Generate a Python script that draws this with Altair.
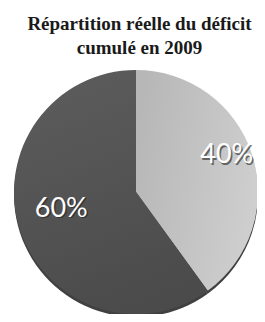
import altair as alt
import pandas as pd

categories = ["Part A", "Part B"]
values = [40, 60]
labels = ["40%", "60%"]
light_stops = ["#b7b7b7", "#cfcfcf"]
dark_stops = ["#5c5c5c", "#4b4b4b"]
title_lines = ["Répartition réelle du déficit", "cumulé en 2009"]

df = pd.DataFrame({"cat": categories, "value": values, "label": labels, "order": [0, 1]})
total = sum(values)

# plot-area pixel positions of the pie centre and of the label ring centre
cx, cy, R = 128, 124, 122
tx, ty, TR = 136, 114, 87

base = alt.Chart(df).transform_stack(
    stack="value", groupby=[], as_=["t0", "t1"], sort=[alt.SortField("order")]
).transform_calculate(mid="(datum.t0 + datum.t1) / 2")

theta = alt.Theta("t0:Q", scale=alt.Scale(domain=[0, total]))

shadow = base.mark_arc(outerRadius=R, color="#000000", opacity=0.75).encode(
    theta=theta, theta2="t1:Q", x=alt.value(cx), y=alt.value(cy + 3)
)

light = base.transform_filter(alt.datum.cat == categories[0]).mark_arc(
    outerRadius=R,
    color=alt.Gradient(
        gradient="linear", x1=0, y1=0.3, x2=1, y2=0.6,
        stops=[alt.GradientStop(offset=0, color=light_stops[0]),
               alt.GradientStop(offset=1, color=light_stops[1])],
    ),
).encode(theta=theta, theta2="t1:Q", x=alt.value(cx), y=alt.value(cy))

dark = base.transform_filter(alt.datum.cat == categories[1]).mark_arc(
    outerRadius=R,
    color=alt.Gradient(
        gradient="linear", x1=0.2, y1=0, x2=0.5, y2=1,
        stops=[alt.GradientStop(offset=0, color=dark_stops[0]),
               alt.GradientStop(offset=1, color=dark_stops[1])],
    ),
).encode(theta=theta, theta2="t1:Q", x=alt.value(cx), y=alt.value(cy))

txt_shadow = base.mark_text(radius=TR, font="Lato", fontSize=27, color="#222222",
                            opacity=0.6, dx=1.5, dy=1.5).encode(
    theta=alt.Theta("mid:Q", scale=alt.Scale(domain=[0, total])),
    text="label:N", x=alt.value(tx), y=alt.value(ty)
)
txt = base.mark_text(radius=TR, font="Lato", fontSize=27, color="#ffffff").encode(
    theta=alt.Theta("mid:Q", scale=alt.Scale(domain=[0, total])),
    text="label:N", x=alt.value(tx), y=alt.value(ty)
)

chart = alt.layer(shadow, light, dark, txt_shadow, txt).properties(
    width=249,
    height=246,
    autosize=alt.AutoSizeParams(type="none"),
    padding={"left": 0, "top": 60, "right": 0, "bottom": 0},
    title=alt.TitleParams(
        title_lines,
        font="Liberation Serif",
        fontSize=19,
        fontWeight="bold",
        color="#1a1a1a",
        lineHeight=24,
        anchor="middle",
        dx=7,
        offset=10,
    ),
).configure_view(stroke=None)

chart.save("out.html", embed_options={"renderer": "svg", "actions": False})
